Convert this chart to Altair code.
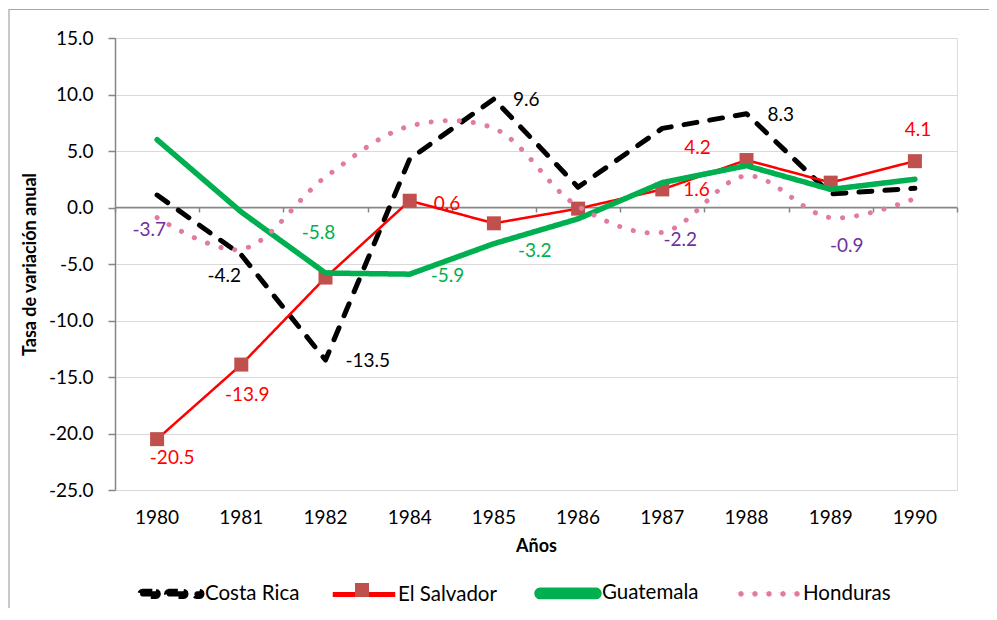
import math
import altair as alt
import pandas as pd

# ---------------- data ----------------
years = ["1980", "1981", "1982", "1984", "1985", "1986", "1987", "1988", "1989", "1990"]
series_names = ["Costa Rica", "El Salvador", "Guatemala", "Honduras"]
costa_rica = [1.1, -4.2, -13.5, 4.3, 9.6, 1.8, 7.0, 8.3, 1.2, 1.7]
el_salvador = [-20.5, -13.9, -6.2, 0.6, -1.4, -0.1, 1.6, 4.2, 2.2, 4.1]
guatemala = [6.0, -0.4, -5.8, -5.9, -3.2, -1.0, 2.2, 3.7, 1.6, 2.5]
honduras = [-0.9, -3.7, 2.7, 7.2, 7.0, 0.1, -2.2, 2.8, -0.9, 0.8]
y_ticks = [-25, -20, -15, -10, -5, 0, 5, 10, 15]

# data points that carry a value label
labelled = [
    ("Costa Rica", "1981"), ("Costa Rica", "1982"), ("Costa Rica", "1985"), ("Costa Rica", "1988"),
    ("El Salvador", "1980"), ("El Salvador", "1981"), ("El Salvador", "1984"),
    ("El Salvador", "1987"), ("El Salvador", "1988"), ("El Salvador", "1990"),
    ("Guatemala", "1982"), ("Guatemala", "1984"), ("Guatemala", "1985"),
    ("Honduras", "1981"), ("Honduras", "1987"), ("Honduras", "1989"),
]

# ---------------- styling ----------------
FONT = "Lato"
line_colors = ["#000000", "#FF0000", "#00B050", "#E27BA1"]
label_colors = {"Costa Rica": "#000000", "El Salvador": "#FF0000",
                "Guatemala": "#00B050", "Honduras": "#7030A0"}
dashes = [[13, 13], [1, 0], [1, 0], [0.1, 14]]
widths = [5, 2.5, 5.5, 5]
GREY = "#868686"
MARKER = "#C0504D"

# label placement: (align, dx, dy)
place = {
    ("Costa Rica", "1981"): ("center", -17, 21),
    ("Costa Rica", "1982"): ("left", 20, 1),
    ("Costa Rica", "1985"): ("left", 19, 1),
    ("Costa Rica", "1988"): ("left", 21, 1),
    ("El Salvador", "1980"): ("center", 15, 19),
    ("El Salvador", "1981"): ("center", 6, 30),
    ("El Salvador", "1984"): ("left", 24, 3),
    ("El Salvador", "1987"): ("left", 21, 1),
    ("El Salvador", "1988"): ("center", -49, -12),
    ("El Salvador", "1990"): ("center", 3, -31),
    ("Guatemala", "1982"): ("center", -7, -40),
    ("Guatemala", "1984"): ("left", 21, 2),
    ("Guatemala", "1985"): ("left", 24, 7),
    ("Honduras", "1981"): ("center", -92, -19),
    ("Honduras", "1987"): ("center", 18, 8),
    ("Honduras", "1989"): ("center", 16, 28),
}

# legend symbol paths (unit = 31 px, symbol centred at 0), polygons only
U = 31.0


def capsule(x0, x1, h, n=6):
    pts = []
    cxr, cxl = x1 - h, x0 + h
    for i in range(n + 1):
        t = -math.pi / 2 + math.pi * i / n
        pts.append((cxr + h * math.cos(t), h * math.sin(t)))
    for i in range(n + 1):
        t = math.pi / 2 + math.pi * i / n
        pts.append((cxl + h * math.cos(t), h * math.sin(t)))
    return "M" + "L".join(f"{px / U:.4f},{py / U:.4f}" for px, py in pts) + "Z"


def rect(x0, x1, y0, y1):
    return f"M{x0 / U:.4f},{y0 / U:.4f}L{x1 / U:.4f},{y0 / U:.4f}L{x1 / U:.4f},{y1 / U:.4f}L{x0 / U:.4f},{y1 / U:.4f}Z"


sym_cr = capsule(-31, -12.7, 2.6) + capsule(-4.4, 15, 2.6) + capsule(23.3, 31, 2.6)
sym_es = rect(-30, 30, -1.3, 1.3)
sym_gu = capsule(-31, 31, 3.2)
sym_ho = "".join(capsule(c - 2.8, c + 2.8, 2.8) for c in [-28, -14, 0, 14, 28])
legend_paths = [sym_cr, sym_es, sym_gu, sym_ho]

rows = []
for name, vals in zip(series_names, [costa_rica, el_salvador, guatemala, honduras]):
    for yr, v in zip(years, vals):
        rows.append({"series": name, "year": yr, "value": v, "label": f"{v:.1f}"})
df = pd.DataFrame(rows)

x_scale = alt.Scale(type="band", domain=years, paddingInner=0, paddingOuter=0)
y_scale = alt.Scale(domain=[-25, 15], nice=False, zero=False)

x_main = alt.X(
    "year:O", scale=x_scale, sort=years,
    axis=alt.Axis(orient="bottom", domain=False, ticks=False, tickSize=0, grid=False,
                  labelAngle=0, labelPadding=18, labelFontSize=19, labelColor="#000000",
                  labelFont=FONT, title="Años", titleFont=FONT, titleFontSize=18,
                  titleFontWeight="bold", titlePadding=10, titleColor="#000000"),
)
y_main = alt.Y(
    "value:Q", scale=y_scale,
    axis=alt.Axis(values=y_ticks,
                  labelExpr="replace(format(datum.value, '.1f'), '\u2212', '-')",
                  grid=True, gridColor="#D9D9D9", gridWidth=1,
                  domainColor=GREY, domainWidth=1.5, tickColor=GREY, tickWidth=1.5,
                  tickSize=7, labelPadding=15, labelFontSize=19, labelColor="#000000",
                  labelFont=FONT, title="Tasa de variación anual", titleFont=FONT,
                  titleFontSize=18, titleFontWeight="bold", titlePadding=9,
                  titleColor="#000000"),
)

main_legend = alt.Legend(
    title=None, orient="none", legendX=22, legendY=521, direction="horizontal",
    columns=4, columnPadding=29, labelFont=FONT, labelFontSize=20.5, labelColor="#000000",
    symbolSize=U * U * 4, labelOffset=0, padding=0, symbolStrokeWidth=0,
    symbolStrokeColor="transparent",
)

base = alt.Chart(df)


def line_layer(name, interp="linear"):
    return base.transform_filter(alt.datum.series == name).mark_line(
        interpolate=interp, strokeCap="round", strokeJoin="round"
    ).encode(
        x=x_main, y=y_main,
        stroke=alt.Stroke("series:N", scale=alt.Scale(domain=series_names, range=line_colors), legend=None),
        strokeDash=alt.StrokeDash("series:N", scale=alt.Scale(domain=series_names, range=dashes), legend=None),
        strokeWidth=alt.StrokeWidth("series:N",
                                    scale=alt.Scale(type="ordinal", domain=series_names, range=widths),
                                    legend=None),
    )


frame = alt.Chart(pd.DataFrame({"f": [0]})).mark_rect(
    fill=None, stroke="#A6A6A6", strokeWidth=1.2
).encode(x=alt.value(-106), x2=alt.value(1200), y=alt.value(-28.5), y2=alt.value(900))

zero_rule = alt.Chart(pd.DataFrame({"f": [0]})).mark_rule(color=GREY, strokeWidth=1.5).encode(
    y=alt.Y("f:Q", scale=y_scale)
)

es_points = base.transform_filter(alt.datum.series == "El Salvador").transform_calculate(
    marker="datum.series"
).mark_point(filled=True, opacity=1, color=MARKER, shape="square").encode(
    x=x_main, y=y_main,
    size=alt.Size("marker:N", scale=alt.Scale(type="ordinal", domain=["El Salvador"], range=[196]),
                  legend=alt.Legend(title=None, orient="none", legendX=240, legendY=545,
                                    labelExpr="''", symbolType="square",
                                    symbolFillColor=MARKER, symbolStrokeWidth=0,
                                    padding=0, labelFontSize=1, labelOffset=0)),
)

# invisible layer carrying the series legend
legend_layer = base.transform_filter("false").mark_point(
    filled=True, opacity=1, strokeWidth=0, stroke="transparent"
).encode(
    x=x_main, y=y_main,
    color=alt.Color("series:N", scale=alt.Scale(domain=series_names, range=line_colors),
                    legend=main_legend),
    shape=alt.Shape("series:N", scale=alt.Scale(domain=series_names, range=legend_paths),
                    legend=main_legend),
)

label_layers = []
for (name, yr) in labelled:
    align, dx, dy = place[(name, yr)]
    label_layers.append(
        base.transform_filter((alt.datum.series == name) & (alt.datum.year == yr)).mark_text(
            align=align, baseline="middle", dx=dx, dy=dy, font=FONT, fontSize=19,
            color=label_colors[name]
        ).encode(x=x_main, y=y_main, text="label:N")
    )

main = alt.layer(
    legend_layer,
    frame, zero_rule,
    line_layer("Costa Rica"),
    line_layer("El Salvador"),
    es_points,
    line_layer("Guatemala"),
    line_layer("Honduras", "catmull-rom"),
    *label_layers,
)

tick_layer = alt.Chart(pd.DataFrame({"year": years})).mark_point(opacity=0).encode(
    x=alt.X("year:O", scale=x_scale, sort=years,
            axis=alt.Axis(orient="top", offset=-174, domain=False, ticks=True, tickBand="extent",
                          tickSize=5, tickColor=GREY, tickWidth=1.5, labels=False, title=None,
                          grid=False))
)

chart = alt.layer(main, tick_layer).resolve_axis(x="independent").properties(
    width=842, height=452,
    padding={"left": 107, "top": 30, "right": 32, "bottom": 118},
    autosize=alt.AutoSizeParams(type="none"),
).configure_view(stroke=GREY, strokeWidth=1.5).configure(font=FONT)

chart.save("out.html", embed_options={"renderer": "svg", "actions": False})
